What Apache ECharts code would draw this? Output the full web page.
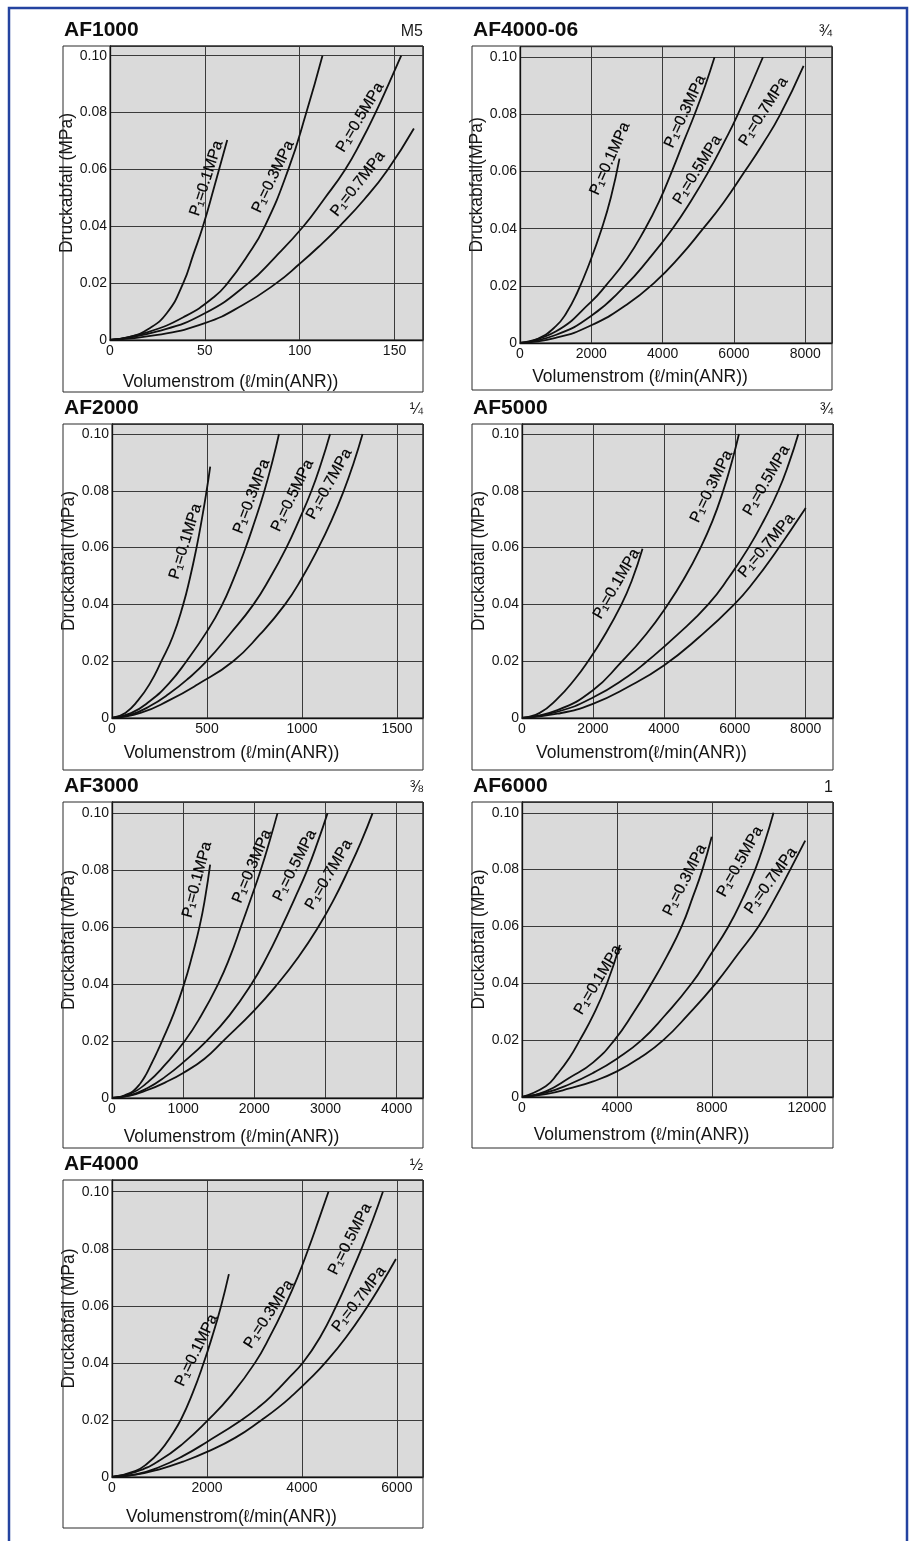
<!DOCTYPE html>
<html>
<head>
<meta charset="utf-8">
<style>
html,body{margin:0;padding:0;background:#ffffff;}
#chart{width:912px;height:1541px;}
</style>
<script src="https://cdn.jsdelivr.net/npm/echarts@6/dist/echarts.min.js"></script>
</head>
<body>
<div id="chart"></div>
<script>
// ---------------- DATA ----------------
const panelNames = ['AF1000', 'AF4000-06', 'AF2000', 'AF5000', 'AF3000', 'AF6000', 'AF4000'];
const portSizes  = ['M5', '¾', '¼', '¾', '⅜', '1', '½'];
const pressureLabels = ['P₁=0.1MPa', 'P₁=0.3MPa', 'P₁=0.5MPa', 'P₁=0.7MPa'];
const yTickLabels = [0, 0.02, 0.04, 0.06, 0.08, 0.10];
const xTickLabels = [
  [0, 50, 100, 150],
  [0, 2000, 4000, 6000, 8000],
  [0, 500, 1000, 1500],
  [0, 2000, 4000, 6000, 8000],
  [0, 1000, 2000, 3000, 4000],
  [0, 4000, 8000, 12000],
  [0, 2000, 4000, 6000]
];
const xAxisNames = [
  'Volumenstrom (ℓ/min(ANR))', 'Volumenstrom (ℓ/min(ANR))', 'Volumenstrom (ℓ/min(ANR))',
  'Volumenstrom(ℓ/min(ANR))', 'Volumenstrom (ℓ/min(ANR))', 'Volumenstrom (ℓ/min(ANR))',
  'Volumenstrom(ℓ/min(ANR))'
];
const yAxisNames = [
  'Druckabfall (MPa)', 'Druckabfall(MPa)', 'Druckabfall (MPa)', 'Druckabfall (MPa)',
  'Druckabfall (MPa)', 'Druckabfall (MPa)', 'Druckabfall (MPa)'
];

// curves: [flow, pressure drop] for P1 = 0.1, 0.3, 0.5, 0.7 MPa
const curvesAF1000 = [
  [[0,0],[10,0.001],[20,0.0038],[30,0.0095],[38.6,0.02],[44,0.0302],[49,0.04],[55,0.054],[61.8,0.0703]],
  [[0,0],[20,0.0028],[40,0.0085],[55,0.0152],[62,0.02],[72,0.0292],[81.6,0.04],[94,0.06],[103.5,0.08],[112,0.10]],
  [[0,0],[25,0.003],[50,0.0094],[73,0.02],[87,0.0291],[102,0.04],[113,0.0497],[124,0.06],[132.5,0.07],[140,0.08],[147,0.0902],[153.5,0.10]],
  [[0,0],[25,0.0018],[50,0.0059],[70,0.0123],[87.7,0.02],[100,0.0268],[110,0.0328],[121,0.04],[134,0.0494],[146.5,0.06],[160.2,0.0744]]
];
const curvesAF4000_06 = [
  [[0,0],[500,0.0015],[1000,0.0058],[1300,0.0105],[1600,0.0175],[1950,0.028],[2292,0.04],[2550,0.051],[2790,0.0645]],
  [[0,0],[1000,0.004],[2000,0.0145],[2400,0.02],[3000,0.0295],[3509,0.04],[3900,0.0495],[4257,0.06],[4600,0.0708],[4912,0.0805],[5200,0.0903],[5455,0.10]],
  [[0,0],[1000,0.0028],[2000,0.0095],[2947,0.02],[3600,0.0292],[4276,0.04],[4800,0.0498],[5287,0.06],[5700,0.0697],[6110,0.08],[6812,0.10]],
  [[0,0],[1000,0.0018],[2000,0.0062],[3000,0.0135],[3800,0.0215],[4500,0.0305],[5100,0.0395],[5700,0.049],[6300,0.06],[6800,0.0695],[7300,0.08],[7953,0.097]]
];
const curvesAF2000 = [
  [[0,0],[70,0.0018],[137,0.0062],[200,0.0122],[260,0.02],[320,0.0287],[375,0.04],[410,0.0492],[445,0.06],[473,0.07],[498,0.08],[517,0.0885]],
  [[0,0],[100,0.0017],[200,0.006],[300,0.0122],[392,0.02],[500,0.0305],[577,0.0395],[640,0.049],[700,0.0593],[750,0.069],[800,0.0795],[845,0.0905],[879,0.10]],
  [[0,0],[100,0.0012],[200,0.0042],[300,0.0085],[400,0.0138],[498,0.02],[620,0.0295],[745,0.04],[835,0.0497],[918,0.06],[987,0.07],[1050,0.08],[1100,0.0895],[1148,0.10]],
  [[0,0],[150,0.0018],[300,0.0062],[450,0.0118],[638,0.02],[780,0.0295],[911,0.04],[1000,0.0493],[1087,0.06],[1155,0.0695],[1220,0.08],[1272,0.0898],[1319,0.10]]
];
const curvesAF5000 = [
  [[0,0],[500,0.0018],[1000,0.0068],[1500,0.0138],[1864,0.02],[2300,0.0285],[2805,0.04],[3100,0.0485],[3398,0.0596]],
  [[0,0],[1000,0.0028],[2000,0.0098],[2786,0.0195],[3500,0.0295],[4104,0.0398],[4600,0.0497],[5017,0.0595],[5375,0.0695],[5675,0.08],[5920,0.0903],[6118,0.10]],
  [[0,0],[1000,0.0022],[2000,0.0072],[3000,0.0148],[3511,0.0198],[4400,0.0295],[5252,0.04],[5850,0.0498],[6381,0.0598],[6830,0.0698],[7228,0.08],[7530,0.0898],[7793,0.10]],
  [[0,0],[1000,0.0015],[2000,0.005],[3000,0.011],[4000,0.0185],[5000,0.0285],[5986,0.04],[6560,0.0483],[7134,0.058],[8000,0.0739]]
];
const curvesAF3000 = [
  [[0,0],[100,0.0003],[200,0.0012],[300,0.0025],[400,0.0052],[480,0.0083],[550,0.0118],[625,0.0157],[703,0.02],[870,0.0298],[1013,0.04],[1130,0.0503],[1233,0.0605],[1310,0.0705],[1379,0.0819]],
  [[0,0],[250,0.0014],[500,0.0055],[750,0.0118],[1022,0.02],[1250,0.0288],[1491,0.04],[1660,0.0497],[1810,0.06],[1955,0.0702],[2090,0.08],[2215,0.0902],[2326,0.10]],
  [[0,0],[250,0.0009],[500,0.0035],[750,0.0075],[1000,0.0125],[1327,0.02],[1650,0.029],[1960,0.04],[2180,0.0497],[2382,0.06],[2570,0.0702],[2743,0.08],[2890,0.0898],[3029,0.10]],
  [[0,0],[250,0.0008],[500,0.0028],[750,0.0055],[1000,0.0088],[1300,0.0138],[1561,0.02],[2000,0.0308],[2326,0.04],[2620,0.0495],[2898,0.06],[3120,0.0698],[3320,0.08],[3500,0.0899],[3662,0.10]]
];
const curvesAF6000 = [
  [[0,0],[1000,0.0038],[1500,0.0082],[2000,0.0138],[2434,0.02],[3000,0.0288],[3560,0.0395],[4122,0.0535]],
  [[0,0],[1000,0.002],[2000,0.0068],[3000,0.0122],[3911,0.0202],[4700,0.0297],[5459,0.04],[6100,0.0495],[6725,0.06],[7200,0.0705],[7598,0.08],[7991,0.0916]],
  [[0,0],[1000,0.0015],[2000,0.0045],[3000,0.0085],[4000,0.0135],[5037,0.02],[6000,0.0285],[7148,0.04],[7900,0.0495],[8695,0.06],[9300,0.07],[9821,0.08],[10230,0.0898],[10595,0.10]],
  [[0,0],[1000,0.001],[2000,0.003],[3000,0.0055],[4000,0.009],[5000,0.014],[5952,0.02],[7000,0.029],[8161,0.04],[9100,0.0503],[9962,0.06],[10650,0.0698],[11298,0.08],[11930,0.0902]]
];
const curvesAF4000 = [
  [[0,0],[500,0.0022],[750,0.0048],[1000,0.0088],[1250,0.0145],[1463,0.0205],[1700,0.0295],[1921,0.0395],[2110,0.0492],[2293,0.0597],[2462,0.0711]],
  [[0,0],[500,0.0018],[1000,0.0058],[1500,0.0118],[2026,0.02],[2500,0.0285],[3011,0.04],[3340,0.0497],[3644,0.06],[3900,0.0697],[4137,0.08],[4355,0.0902],[4559,0.10]],
  [[0,0],[500,0.0009],[1000,0.0035],[1500,0.0074],[2000,0.0123],[2730,0.02],[3100,0.0246],[3400,0.0291],[3700,0.0343],[4031,0.0403],[4380,0.0489],[4734,0.0603],[5000,0.0701],[5262,0.0803],[5490,0.09],[5705,0.10]],
  [[0,0],[500,0.0008],[1000,0.0027],[1500,0.0054],[2000,0.0088],[2600,0.0138],[3152,0.02],[3500,0.0243],[3820,0.0289],[4150,0.0341],[4488,0.04],[4934,0.0491],[5380,0.0598],[5680,0.0678],[5980,0.0764]]
];
const allCurves = [curvesAF1000, curvesAF4000_06, curvesAF2000, curvesAF5000, curvesAF3000, curvesAF6000, curvesAF4000];

// ---------------- LAYOUT / STYLE ----------------
// label anchor in data coordinates + rotation (deg)
const labelPlacement = [
  [[50.9,0.0569,72],[86,0.0574,64],[131.9,0.0783,59],[130.7,0.0549,52]],
  [[2526,0.0645,66],[4632,0.081,65],[4978,0.0606,58],[6831,0.081,57.5]],
  [[387,0.0621,72.6],[735,0.078,69],[950,0.0783,64],[1143,0.0824,61]],
  [[2664,0.0472,60],[5346,0.0815,64],[6899,0.0836,60],[6899,0.0607,50]],
  [[1196,0.0766,75],[1969,0.0813,67],[2570,0.0816,63],[3048,0.0784,59.6]],
  [[3208,0.0412,59],[6866,0.0763,63],[9188,0.0828,60.5],[10482,0.0761,54]],
  [[1780,0.0444,64],[3306,0.0571,57],[5016,0.0834,63],[5206,0.0623,52.5]]
];
const layout = [
  {box:[63,46,423,392],   grid:[110,46,423,340],   xMax:165,   yMax:0.1034, xGap:33},
  {box:[472,46,832,390],  grid:[520,46.7,832,343], xMax:8750,  yMax:0.1037, xGap:25},
  {box:[63,424,423,770],  grid:[112,424,423,718],  xMax:1637,  yMax:0.1035, xGap:26},
  {box:[472,424,833,770], grid:[522,424,833,718],  xMax:8770,  yMax:0.1035, xGap:26},
  {box:[63,802,423,1148], grid:[112,802,423,1098], xMax:4370,  yMax:0.1039, xGap:30},
  {box:[472,802,833,1148],grid:[522,802,833,1097], xMax:13100, yMax:0.1038, xGap:29},
  {box:[63,1180,423,1528],grid:[112,1180,423,1477],xMax:6550,  yMax:0.1041, xGap:31}
];
const FONT = '"Liberation Sans", Arial, Helvetica, sans-serif';
const INK = '#141414';

const grids = [], xAxes = [], yAxes = [], series = [], graphics = [];

graphics.push({
  type: 'rect', silent: true, z: 100,
  shape: {x: 9, y: 8, width: 898, height: 1560},
  style: {fill: 'none', stroke: '#2443a0', lineWidth: 2.5}
});

panelNames.forEach((name, i) => {
  const L = layout[i];
  const g = L.grid;
  grids.push({
    left: g[0], top: g[1], width: g[2] - g[0], height: g[3] - g[1],
    show: true, backgroundColor: '#dadada', borderColor: '#222', borderWidth: 1
  });
  const xt = xTickLabels[i];
  xAxes.push({
    gridIndex: i, type: 'value', min: 0, max: L.xMax, interval: xt[1] - xt[0],
    axisLine: {show: true, onZero: false, lineStyle: {color: '#111', width: 1.3}},
    axisTick: {show: false},
    splitLine: {show: true, lineStyle: {color: '#3a3a3a', width: 1}},
    axisLabel: {showMaxLabel: false, margin: 4, color: INK, fontSize: 14, fontFamily: FONT,
      formatter: v => String(Math.round(v))},
    name: xAxisNames[i], nameLocation: 'middle', nameGap: L.xGap,
    nameTextStyle: {fontSize: 17.5, color: INK, fontFamily: FONT, padding: [0, 72, 0, 0]}
  });
  yAxes.push({
    gridIndex: i, type: 'value', min: 0, max: L.yMax, interval: yTickLabels[1] - yTickLabels[0],
    axisLine: {show: true, onZero: false, lineStyle: {color: '#111', width: 1.3}},
    axisTick: {show: false},
    splitLine: {show: true, lineStyle: {color: '#3a3a3a', width: 1}},
    axisLabel: {
      showMaxLabel: false, margin: 3, color: INK, fontSize: 14, fontFamily: FONT,
      formatter: v => (Math.abs(v) < 1e-9 ? '0' : v.toFixed(2))
    },
    name: yAxisNames[i], nameLocation: 'middle', nameGap: 30,
    nameTextStyle: {fontSize: 17.5, color: INK, fontFamily: FONT, padding: [0, 0, 0, 20]}
  });

  allCurves[i].forEach((curve) => {
    series.push({
      type: 'line', xAxisIndex: i, yAxisIndex: i, data: curve,
      smooth: 0.5, showSymbol: false, symbol: 'none',
      silent: true, clip: true,
      lineStyle: {color: '#111', width: 1.8}
    });
  });

  series.push({
    type: 'scatter', xAxisIndex: i, yAxisIndex: i, symbolSize: 1, silent: true,
    itemStyle: {color: 'rgba(0,0,0,0)'},
    data: labelPlacement[i].map((p, k) => ({
      value: [p[0], p[1]],
      label: {rotate: p[2], formatter: pressureLabels[k]}
    })),
    label: {
      show: true, position: [0.5, 0.5], align: 'center', verticalAlign: 'middle',
      color: '#000', fontSize: 15.5, fontFamily: FONT, opacity: 1,
      textBorderColor: '#000', textBorderWidth: 0.2
    },
    z: 5
  });

  const b = L.box;
  graphics.push({
    type: 'rect', silent: true, z: 50,
    shape: {x: b[0], y: b[1], width: b[2] - b[0], height: b[3] - b[1]},
    style: {fill: 'none', stroke: '#2a2a2a', lineWidth: 1}
  });
  graphics.push({
    type: 'text', silent: true, z: 50, x: b[0] + 1, y: b[1] - 15.5,
    style: {text: name, font: 'bold 21px ' + FONT, fill: '#0d0d0d', align: 'left', verticalAlign: 'middle'}
  });
  graphics.push({
    type: 'text', silent: true, z: 50, x: b[2], y: b[1] - 14,
    style: {text: portSizes[i], font: '16px ' + FONT, fill: '#1a1a1a', align: 'right', verticalAlign: 'middle'}
  });
});

const chart = echarts.init(document.getElementById('chart'), null, {renderer: 'canvas'});
chart.setOption({
  animation: false,
  backgroundColor: '#ffffff',
  tooltip: {show: false},
  grid: grids,
  xAxis: xAxes,
  yAxis: yAxes,
  series: series,
  graphic: {elements: graphics}
});
</script>
</body>
</html>
